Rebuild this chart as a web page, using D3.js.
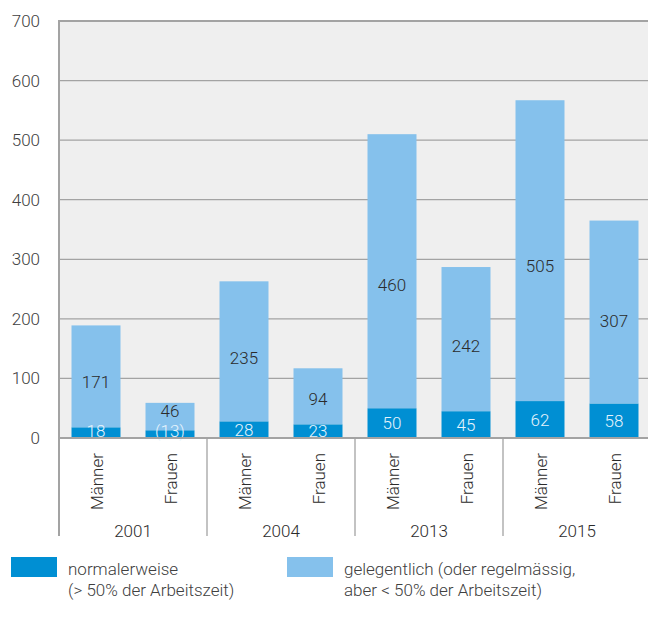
<!DOCTYPE html>
<html>
<head>
<meta charset="utf-8">
<script src="https://cdn.jsdelivr.net/npm/d3@7"></script>
<style>
  html, body { margin: 0; padding: 0; background: #fff; }
  svg text { font-family: Roboto, "Noto Sans", sans-serif; font-weight: 300; }
</style>
</head>
<body>
<svg id="chart" width="648" height="617"></svg>
<script>
// Jahre und Geschlechter (gruppierte Kategorien)
const years = ["2001", "2004", "2013", "2015"];
const sexes = ["Männer", "Frauen"];
// normalerweise (> 50% der Arbeitszeit)
const normal = [18, 13, 28, 23, 50, 45, 62, 58];
// gelegentlich (oder regelmässig, aber < 50% der Arbeitszeit)
const occasional = [171, 46, 235, 94, 460, 242, 505, 307];
// Beschriftungen der dunklen Segmente
const normalLabels = ["18", "(13)", "28", "23", "50", "45", "62", "58"];
const yTicks = [0, 100, 200, 300, 400, 500, 600, 700];
const legendItems = [
  { lines: ["normalerweise", "(> 50% der Arbeitszeit)"], color: "#008fd3" },
  { lines: ["gelegentlich (oder regelmässig,", "aber < 50% der Arbeitszeit)"], color: "#85c1ec" }
];

const cats = [];
years.forEach(yr => sexes.forEach(s => cats.push(yr + "|" + s)));
const rows = cats.map((c, i) => ({
  key: c, year: c.split("|")[0], sex: c.split("|")[1],
  normal: normal[i], occasional: occasional[i], label: normalLabels[i]
}));

const svg = d3.select("#chart");
const plotLeft = 59, plotRight = 651, plotTop = 21, plotBottom = 438;
const fs = 17;

const x = d3.scaleBand().domain(cats).range([plotLeft, plotRight]).paddingInner(0.338).paddingOuter(0.169);
const y = d3.scaleLinear().domain([0, 700]).range([plotBottom, plotTop]);

// Hintergrund der Zeichenfläche
svg.append("rect").attr("x", plotLeft).attr("y", plotTop).attr("width", 648 - plotLeft).attr("height", plotBottom - plotTop)
  .attr("fill", "#efefef");

// Gitterlinien
svg.append("g").selectAll("line").data(yTicks.filter(t => t > 0)).join("line")
  .attr("x1", plotLeft).attr("x2", 648)
  .attr("y1", d => y(d)).attr("y2", d => y(d))
  .attr("stroke", "#a3a3a3").attr("stroke-width", d => d === 700 ? 2 : 1.3);

// Y-Achse mit d3.axisLeft
const yAxis = svg.append("g").attr("transform", `translate(${plotLeft},0)`)
  .call(d3.axisLeft(y).tickValues(yTicks).tickSize(0).tickPadding(19));
yAxis.select(".domain").remove();
yAxis.selectAll("text").attr("font-size", fs).attr("fill", "#404040")
  .style("font-family", "Roboto, sans-serif").style("font-weight", 300);

// Gestapelte Balken
const stack = d3.stack().keys(["normal", "occasional"])(rows);
const colors = { normal: "#008fd3", occasional: "#85c1ec" };
stack.forEach(layer => {
  svg.append("g").selectAll("rect").data(layer).join("rect")
    .attr("x", d => x(d.data.key))
    .attr("width", x.bandwidth())
    .attr("y", d => y(d[1]))
    .attr("height", d => y(d[0]) - y(d[1]))
    .attr("fill", colors[layer.key]);
});

// Wertebeschriftungen: hell etwas unterhalb der Segmentmitte, dunkel mittig (nicht unter die Grundlinie)
const lightLayer = stack[1], darkLayer = stack[0];
svg.append("g").selectAll("text").data(lightLayer).join("text")
  .attr("x", d => x(d.data.key) + x.bandwidth() / 2)
  .attr("y", d => Math.min(y(d[0] + 0.45 * (d[1] - d[0])), y(d[0]) - 19))
  .attr("dy", "0.36em").attr("text-anchor", "middle")
  .attr("font-size", fs).attr("fill", "#2b2b2b")
  .text(d => d.data.occasional);
svg.append("g").selectAll("text").data(darkLayer).join("text")
  .attr("x", d => x(d.data.key) + x.bandwidth() / 2)
  .attr("y", d => Math.min((y(d[0]) + y(d[1])) / 2, plotBottom - 7))
  .attr("dy", "0.36em").attr("text-anchor", "middle")
  .attr("font-size", fs).attr("fill", "#e6f3fc")
  .text(d => d.data.label);

// Achsenlinie unten und links
svg.append("line").attr("x1", plotLeft).attr("x2", 648).attr("y1", plotBottom).attr("y2", plotBottom)
  .attr("stroke", "#a3a3a3").attr("stroke-width", 2);
svg.append("line").attr("x1", plotLeft).attr("x2", plotLeft).attr("y1", plotTop - 1).attr("y2", 536)
  .attr("stroke", "#a3a3a3").attr("stroke-width", 2);

// Trennlinien zwischen den Jahresgruppen
const step = x.step();
const groupEdges = years.slice(1).map(yr => x(yr + "|" + sexes[0]) - (step - x.bandwidth()) / 2);
svg.append("g").selectAll("line").data(groupEdges).join("line")
  .attr("x1", d => d).attr("x2", d => d).attr("y1", plotBottom).attr("y2", 536)
  .attr("stroke", "#a3a3a3").attr("stroke-width", 1.3);

// Kategorienbeschriftungen (senkrecht)
svg.append("g").selectAll("text").data(rows).join("text")
  .attr("transform", d => `translate(${x(d.key) + x.bandwidth() / 2 + 6.5},${plotBottom + 15}) rotate(-90)`)
  .attr("text-anchor", "end")
  .attr("font-size", fs).attr("fill", "#2b2b2b")
  .text(d => d.sex);

// Jahresbeschriftungen
svg.append("g").selectAll("text").data(years).join("text")
  .attr("x", yr => (x(yr + "|" + sexes[0]) + x(yr + "|" + sexes[1]) + x.bandwidth()) / 2)
  .attr("y", 537)
  .attr("text-anchor", "middle")
  .attr("font-size", fs).attr("fill", "#2b2b2b")
  .text(yr => yr);

// Legende
const legend = svg.append("g").selectAll("g").data(legendItems).join("g")
  .attr("transform", (d, i) => `translate(${i === 0 ? 11 : 287},557)`);
legend.append("rect").attr("width", 46).attr("height", 20).attr("fill", d => d.color);
legend.append("text").attr("x", 57).attr("y", 18)
  .attr("font-size", fs).attr("fill", "#404040")
  .selectAll("tspan").data(d => d.lines).join("tspan")
  .attr("x", 57).attr("dy", (d, i) => i === 0 ? 0 : 21)
  .text(d => d);
</script>
</body>
</html>
